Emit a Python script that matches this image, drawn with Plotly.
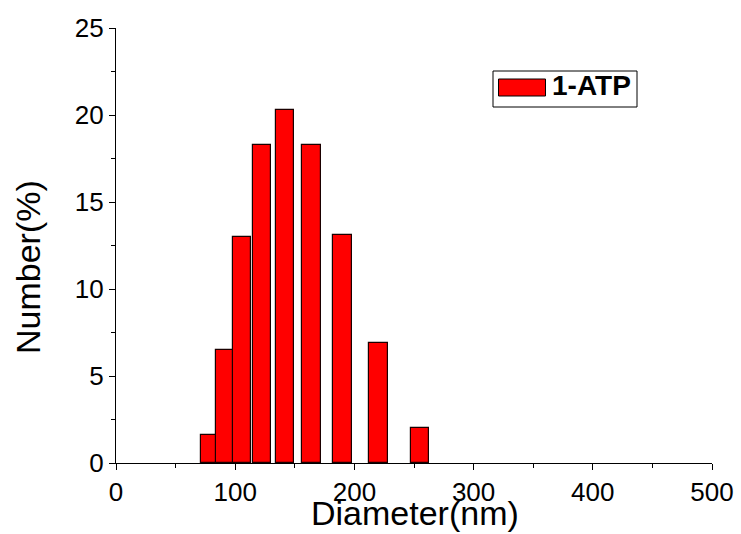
import plotly.graph_objects as go

# Data
diameter_nm = [78.8, 91.3, 105.7, 122.4, 141.8, 164.2, 190.1, 220.2, 255.0]
number_pct = [1.6, 6.5, 13.0, 18.3, 20.3, 18.3, 13.1, 6.9, 2.0]
series_name = "1-ATP"
x_ticks = [0, 100, 200, 300, 400, 500]
y_ticks = [0, 5, 10, 15, 20, 25]

FONT = "Arial, Liberation Sans, sans-serif"

fig = go.Figure()
fig.add_trace(go.Bar(
    x=diameter_nm, y=number_pct, name=series_name, width=15.6,
    marker=dict(color="#FF0000", line=dict(color="#1a0000", width=1.2)),
    showlegend=False,
))

W, H = 741, 534
L, R, T, B = 116, 29, 28, 71

fig.update_layout(
    template="none",
    width=W, height=H, autosize=False,
    margin=dict(l=L, r=R, t=T, b=B, pad=0, autoexpand=False),
    plot_bgcolor="white", paper_bgcolor="white",
    font=dict(family=FONT, color="black"),
    bargap=0,
)
fig.update_xaxes(
    range=[0, 500], tickvals=x_ticks, ticktext=[str(v) for v in x_ticks],
    automargin=False,
    showline=True, linecolor="black", linewidth=1.3, mirror=False,
    ticks="outside", ticklen=6, tickwidth=1.3, tickcolor="black",
    minor=dict(dtick=50, tick0=0, ticks="outside", ticklen=4, tickwidth=1.2, tickcolor="black", showgrid=False),
    showgrid=False, zeroline=False,
    tickfont=dict(family=FONT, size=26, color="black"),
)
fig.update_yaxes(
    range=[0, 25], tickvals=y_ticks, ticktext=[str(v) for v in y_ticks],
    automargin=False,
    showline=True, linecolor="black", linewidth=1.3, mirror=False,
    ticks="outside", ticklen=6, tickwidth=1.3, tickcolor="black",
    minor=dict(dtick=2.5, tick0=0, ticks="outside", ticklen=4, tickwidth=1.2, tickcolor="black", showgrid=False),
    showgrid=False, zeroline=False,
    tickfont=dict(family=FONT, size=26, color="black"),
)

pw, ph = W - L - R, H - T - B
def px(xp):
    return (xp - L) / pw
def py(yp):
    return (H - B - yp) / ph

# Axis titles
fig.add_annotation(text="Diameter(nm)", xref="paper", yref="paper",
                   x=px(415), y=py(513), xanchor="center", yanchor="middle",
                   showarrow=False, font=dict(family=FONT, size=34, color="black"))
fig.add_annotation(text="Number(%)", xref="paper", yref="paper",
                   x=px(28), y=py(267), xanchor="center", yanchor="middle", textangle=-90,
                   showarrow=False, font=dict(family=FONT, size=34, color="black"))

# Legend box
fig.add_shape(type="rect", xref="paper", yref="paper",
              x0=px(493), x1=px(637), y0=py(107), y1=py(71),
              line=dict(color="black", width=1), fillcolor="white", layer="above")
fig.add_shape(type="rect", xref="paper", yref="paper",
              x0=px(498.5), x1=px(545.5), y0=py(96), y1=py(79),
              line=dict(color="black", width=1), fillcolor="#FF0000", layer="above")
fig.add_annotation(text="<b>" + series_name + "</b>", xref="paper", yref="paper",
                   x=px(550), y=py(86), xanchor="left", yanchor="middle",
                   showarrow=False, font=dict(family=FONT, size=28, color="black"))

fig.write_html("out.html")
